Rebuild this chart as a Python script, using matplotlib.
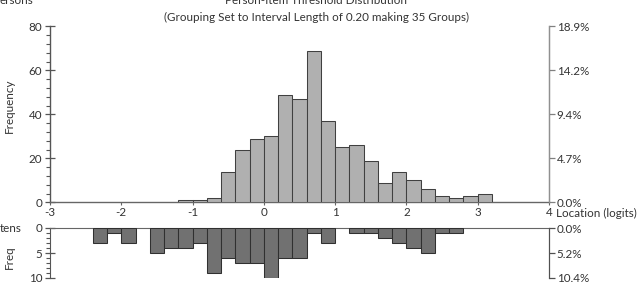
import matplotlib
matplotlib.use("Agg")
import matplotlib.pyplot as plt
from matplotlib.ticker import MultipleLocator

plt.rcParams['font.family'] = ['Lato', 'DejaVu Sans']

# ---- data ----
person_lefts = [-1.2, -1.0, -0.8, -0.6, -0.4, -0.2, 0.0, 0.2, 0.4, 0.6, 0.8,
                1.0, 1.2, 1.4, 1.6, 1.8, 2.0, 2.2, 2.4, 2.6, 2.8, 3.0]
person_counts = [1, 1, 2, 14, 24, 29, 30, 49, 47, 69, 37,
                 25, 26, 19, 9, 14, 10, 6, 3, 2, 3, 4]

item_lefts = [-2.4, -2.2, -2.0, -1.6, -1.4, -1.2, -1.0, -0.8, -0.6, -0.4, -0.2,
              0.0, 0.2, 0.4, 0.6, 0.8, 1.2, 1.4, 1.6, 1.8, 2.0, 2.2, 2.4, 2.6]
item_counts = [3, 1, 3, 5, 4, 4, 3, 9, 6, 7, 7,
               10, 6, 6, 1, 3, 1, 1, 2, 3, 4, 5, 1, 1]

x_ticks = [-3, -2, -1, 0, 1, 2, 3, 4]
top_yticks = [0, 20, 40, 60, 80]
low_yticks = [0, 5, 10]
bin_width = 0.2

title = "Person-Item Threshold Distribution"
subtitle = "(Grouping Set to Interval Length of 0.20 making 35 Groups)"

# ---- figure ----
W, H = 641, 292
fig = plt.figure(figsize=(W / 100, H / 100), dpi=100)

def box(x0, y_top, x1, y_bot):
    return [x0 / W, 1 - y_bot / H, (x1 - x0) / W, (y_bot - y_top) / H]

txt = '#333333'
spine_c = '#555555'
fs = 8.4

ax = fig.add_axes(box(50, 26.3, 549, 202.3))
ax.bar(person_lefts, person_counts, width=bin_width, align='edge',
       color='#b0b0b0', edgecolor='#404040', linewidth=0.75, zorder=3)
ax.set_xlim(-3, 4)
ax.set_ylim(0, 80)
ax.spines['top'].set_visible(False)
ax.spines['left'].set_color(spine_c)
ax.spines['bottom'].set_color('#666666')
ax.spines['right'].set_color('#909090')
for s in ax.spines.values():
    s.set_linewidth(1.0)
ax.set_yticks(top_yticks)
ax.yaxis.set_minor_locator(MultipleLocator(4))
ax.tick_params(axis='y', which='major', direction='inout', length=7, width=0.9,
               color=spine_c, labelsize=fs, labelcolor=txt, pad=2)
ax.tick_params(axis='y', which='minor', direction='out', length=3, width=0.8, color=spine_c)
ax.set_xticks(x_ticks)
ax.set_xticklabels([str(v) for v in x_ticks])
ax.tick_params(axis='x', direction='out', length=2, width=0.8, color='#666666',
               labelsize=fs, labelcolor=txt, pad=1.5)

n_person = sum(person_counts)
axr = ax.twinx()
axr.set_ylim(0, 80)
axr.set_yticks(top_yticks)
axr.set_yticklabels([f"{v / n_person * 100:.1f}%" for v in top_yticks])
for s in ['top', 'left', 'bottom']:
    axr.spines[s].set_visible(False)
axr.spines['right'].set_color('#909090')
axr.tick_params(axis='y', direction='out', length=4, width=0.9, color='#808080',
                labelsize=fs, labelcolor=txt, pad=1.5)

fig.text(556 / W, 1 - 213 / H, 'Location (logits)', fontsize=fs, color=txt,
         ha='left', va='center')

# lower panel
ax2 = fig.add_axes(box(50, 228, 549, 278))
ax2.bar(item_lefts, item_counts, width=bin_width, align='edge',
        color='#717171', edgecolor='#303030', linewidth=0.75, zorder=3)
ax2.set_xlim(-3, 4)
ax2.set_ylim(10, 0)
ax2.spines['bottom'].set_visible(False)
ax2.spines['top'].set_color('#666666')
ax2.spines['left'].set_color(spine_c)
ax2.spines['right'].set_color('#505050')
ax2.set_xticks([])
ax2.set_yticks(low_yticks)
ax2.yaxis.set_minor_locator(MultipleLocator(1))
ax2.tick_params(axis='y', which='major', direction='inout', length=7, width=0.9,
                color=spine_c, labelsize=fs, labelcolor=txt, pad=2)
ax2.tick_params(axis='y', which='minor', direction='out', length=3, width=0.8, color=spine_c)

n_item = sum(item_counts)
ax2r = ax2.twinx()
ax2r.set_ylim(10, 0)
ax2r.set_yticks(low_yticks)
ax2r.set_yticklabels([f"{v / n_item * 100:.1f}%" for v in low_yticks])
for s in ['top', 'left', 'bottom']:
    ax2r.spines[s].set_visible(False)
ax2r.spines['right'].set_color('#505050')
ax2r.tick_params(axis='y', direction='out', length=4, width=0.9, color='#505050',
                 labelsize=fs, labelcolor=txt, pad=1.5)

# axis titles
fig.text(9 / W, 1 - 106 / H, 'Frequency', fontsize=fs, color=txt, rotation=90,
         ha='center', va='center')
fig.text(9 / W, 1 - 257 / H, 'Freq', fontsize=fs, color=txt, rotation=90,
         ha='center', va='center')

# titles and cut-off labels (cut at the top edge as in the reference)
fig.text(316 / W, 1 - 0 / H, title, fontsize=fs, color=txt, ha='center', va='center')
fig.text(316 / W, 1 - 17 / H, subtitle, fontsize=fs, color=txt, ha='center', va='center')
fig.text(0 / W, 1 - 0 / H, 'ersons', fontsize=fs, color=txt, ha='left', va='center')
fig.text(0 / W, 1 - 229 / H, 'tens', fontsize=fs, color=txt, ha='left', va='center')

fig.savefig('out.png', dpi=100)
